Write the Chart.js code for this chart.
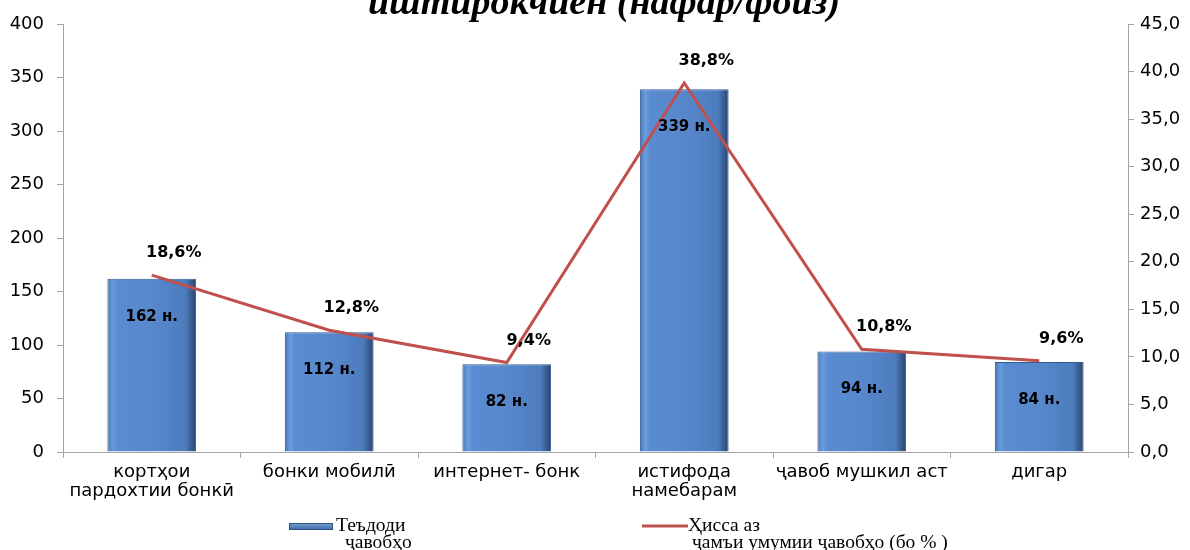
<!DOCTYPE html>
<html>
<head>
<meta charset="utf-8">
<script src="https://cdn.jsdelivr.net/npm/chart.js@4.4.1/dist/chart.umd.min.js"></script>
<style>
  html, body { margin: 0; padding: 0; background: #fff; }
  #wrap { width: 1190px; height: 550px; position: relative; }
</style>
</head>
<body>
<div id="wrap"><canvas id="chart"></canvas></div>
<script>
// данные диаграммы
const categories = [
  ['кортҳои', 'пардохтии бонкӣ'],
  'бонки мобилӣ',
  'интернет- бонк',
  ['истифода', 'намебарам'],
  'ҷавоб мушкил аст',
  'дигар'
];
const answerCounts = [162, 112, 82, 339, 94, 84];
const sharePercent = [18.6, 12.8, 9.4, 38.8, 10.8, 9.6];
const leftTicks = [0, 50, 100, 150, 200, 250, 300, 350, 400];
const rightTicks = [0, 5, 10, 15, 20, 25, 30, 35, 40, 45];
const titleText = 'иштирокчиён (нафар/фоиз)';
const barLegend = ['Теъдоди', 'ҷавобҳо'];
const lineLegend = ['Ҳисса аз', 'ҷамъи умумии ҷавобҳо (бо % )'];

const axisColor = '#a6a6a6';
const lineColor = '#c0504d';
const sansFont = "'DejaVu Sans', Verdana, sans-serif";
const serifFont = "'Liberation Serif', 'DejaVu Serif', serif";

function fmtComma(v, d) { return v.toFixed(d).replace('.', ','); }

// градиент для столбиков (эффект рельефа)
function barFill(ctx) {
  const chart = ctx.chart;
  const xs = chart.scales.x;
  if (!xs || ctx.dataIndex === undefined) return '#5283c4';
  const cx = xs.getPixelForValue(ctx.dataIndex);
  const w = (xs.width / categories.length) * 0.5;
  if (!isFinite(cx) || !isFinite(w) || w <= 0) return '#5283c4';
  const g = chart.ctx.createLinearGradient(cx - w / 2, 0, cx + w / 2, 0);
  g.addColorStop(0, '#4a78b5');
  g.addColorStop(0.06, '#6a9bdc');
  g.addColorStop(0.12, '#5a8bd0');
  g.addColorStop(0.5, '#5888cc');
  g.addColorStop(0.88, '#4d7cbd');
  g.addColorStop(1, '#28446e');
  return g;
}

const labelsPlugin = {
  id: 'labelsPlugin',
  afterDatasetsDraw(chart) {
    const c = chart.ctx;
    c.save();
    // подписи внутри столбиков
    const bars = chart.getDatasetMeta(1).data;
    c.font = "bold 15px " + sansFont;
    c.fillStyle = '#000';
    c.textAlign = 'center';
    c.textBaseline = 'middle';
    bars.forEach((b, i) => {
      c.fillText(answerCounts[i] + ' н.', b.x, b.y + 38);
    });
    // подписи над линией
    const pts = chart.getDatasetMeta(0).data;
    c.font = "bold 16px " + sansFont;
    pts.forEach((p, i) => {
      c.fillText(fmtComma(sharePercent[i], 1) + '%', p.x + 22, p.y - 22);
    });
    c.restore();
  },
  afterDraw(chart) {
    const c = chart.ctx;
    c.save();
    // заголовок (обрезан сверху)
    c.font = "italic bold 38px " + serifFont;
    c.fillStyle = '#000';
    c.textAlign = 'center';
    c.textBaseline = 'alphabetic';
    c.fillText(titleText, 604, 14);

    // легенда
    c.font = "19.5px " + serifFont;
    c.textAlign = 'left';
    const g = c.createLinearGradient(0, 523, 0, 530);
    g.addColorStop(0, '#7aa6dc');
    g.addColorStop(1, '#3b679f');
    c.fillStyle = g;
    c.fillRect(289, 523, 44, 7);
    c.strokeStyle = '#2d5283';
    c.lineWidth = 1;
    c.strokeRect(289.5, 523.5, 43, 6);
    c.fillStyle = '#000';
    c.fillText(barLegend[0], 336, 531);
    c.fillText(barLegend[1], 345, 548);

    c.strokeStyle = lineColor;
    c.lineWidth = 3;
    c.beginPath();
    c.moveTo(642, 526);
    c.lineTo(688, 526);
    c.stroke();
    c.fillText(lineLegend[0], 688, 531);
    c.fillText(lineLegend[1], 692, 548);
    c.restore();
  }
};

new Chart(document.getElementById('chart').getContext('2d'), {
  data: {
    labels: categories,
    datasets: [
      {
        type: 'line',
        label: lineLegend.join(' '),
        data: sharePercent,
        yAxisID: 'y1',
        borderColor: lineColor,
        borderWidth: 3,
        pointRadius: 0,
        tension: 0,
        order: 0
      },
      {
        type: 'bar',
        label: barLegend.join(' '),
        data: answerCounts,
        yAxisID: 'y',
        backgroundColor: barFill,
        borderColor: '#2f5b8f',
        borderWidth: 1,
        barPercentage: 0.5,
        categoryPercentage: 1,
        order: 1
      }
    ]
  },
  options: {
    responsive: true,
    maintainAspectRatio: false,
    animation: false,
    layout: { padding: { top: 24, left: 0, right: 0, bottom: 0 } },
    scales: {
      x: {
        offset: true,
        grid: { display: true, offset: true, drawOnChartArea: false, drawTicks: true, tickLength: 6, color: axisColor },
        border: { color: axisColor },
        ticks: { color: '#000', font: { family: sansFont, size: 18, lineHeight: 1.1 }, padding: 4, maxRotation: 0, autoSkip: false },
        afterFit(s) { s.height = 98; }
      },
      y: {
        position: 'left',
        min: 0, max: 400,
        afterBuildTicks(s) { s.ticks = leftTicks.map(v => ({ value: v })); },
        grid: { drawOnChartArea: false, tickLength: 6, color: axisColor },
        border: { color: axisColor },
        ticks: { color: '#000', font: { family: sansFont, size: 18 }, padding: 13 },
        afterFit(s) { s.width = 63; }
      },
      y1: {
        position: 'right',
        min: 0, max: 45,
        afterBuildTicks(s) { s.ticks = rightTicks.map(v => ({ value: v })); },
        grid: { drawOnChartArea: false, tickLength: 6, color: axisColor },
        border: { color: axisColor },
        ticks: { color: '#000', font: { family: sansFont, size: 18 }, padding: 6, callback: v => fmtComma(v, 1) },
        afterFit(s) { s.width = 62; }
      }
    },
    plugins: {
      legend: { display: false },
      tooltip: { enabled: false }
    }
  },
  plugins: [labelsPlugin]
});
</script>
</body>
</html>
